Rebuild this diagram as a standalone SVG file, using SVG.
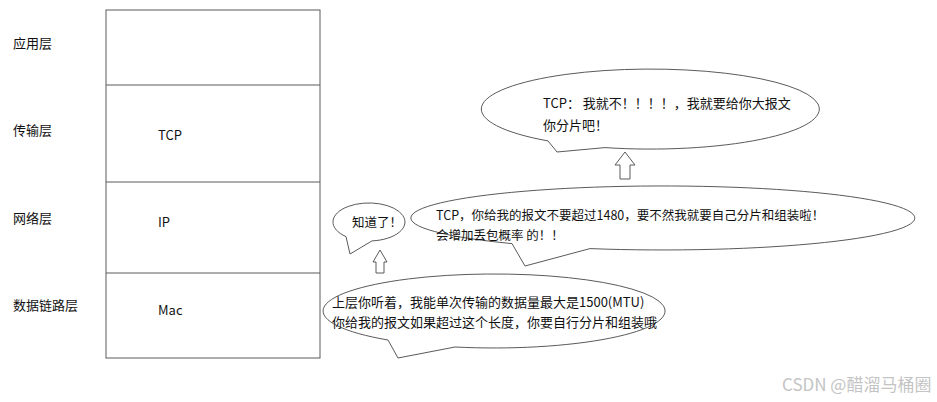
<svg xmlns="http://www.w3.org/2000/svg" width="937" height="402" viewBox="0 0 937 402">
<style>
text{font-family:"Noto Sans CJK SC","Noto Sans",sans-serif;font-size:13px;fill:#111}
.sm{font-size:12.5px}
.ln{fill:#fff;stroke:#5a5a5a;stroke-width:1}
.wm{fill:#c4c4c4;font-size:17px}
</style>
<rect width="937" height="402" fill="#fff"/>
<g id="stack">
<rect class="ln" x="106" y="10" width="214" height="348"/>
<line class="ln" x1="106" y1="85" x2="320" y2="85"/>
<line class="ln" x1="106" y1="182" x2="320" y2="182"/>
<line class="ln" x1="106" y1="273" x2="320" y2="273"/>
</g>
<g id="labels">
<text x="13" y="48">应用层</text>
<text x="13" y="135">传输层</text>
<text x="13" y="223">网络层</text>
<text x="13" y="310">数据链路层</text>
</g>
<g id="layer-tcp"><text x="158" y="140">TCP</text></g>
<g id="layer-ip"><text x="158" y="227">IP</text></g>
<g id="layer-mac"><text x="158" y="315">Mac</text></g>
<g id="bubble-tcp">
<path class="ln" d="M548,140.9 A169,40 0 1 1 605,147.6 L557,152 Z"/>
<text x="543" y="108">TCP： 我就不！！！！，我就要给你大报文</text>
<text x="543" y="130">你分片吧！</text>
</g>
<g id="bubble-ip">
<path class="ln" d="M512,243.6 A252,32 0 1 1 590,248.6 L525,266 Z"/>
<text class="sm" x="436" y="219.5">TCP，你给我的报文不要超过1480，要不然我就要自己分片和组装啦！</text>
<text class="sm" x="436" y="240">会增加丢包概率 的！！</text>
</g>
<g id="bubble-ack">
<path class="ln" d="M346,236.6 A36,19 0 1 1 372,240.9 L350,254 Z"/>
<text class="sm" x="352" y="227">知道了！</text>
</g>
<g id="bubble-mac">
<path class="ln" d="M388,340 A171,37 0 1 1 455,347 L398,358 Z"/>
<text x="332" y="307">上层你听着，我能单次传输的数据量最大是1500(MTU)</text>
<text x="332" y="327">你给我的报文如果超过这个长度，你要自行分片和组装哦</text>
</g>
<g id="connectors">
<path class="ln" d="M625,152 L635,165 L630,165 L630,179 L620,179 L620,165 L615,165 Z"/>
<path class="ln" d="M380,250 L387,262 L384,262 L384,273 L376,273 L376,262 L373,262 Z"/>
</g>
<text class="wm" x="782" y="391">CSDN @醋溜马桶圈</text>
</svg>
